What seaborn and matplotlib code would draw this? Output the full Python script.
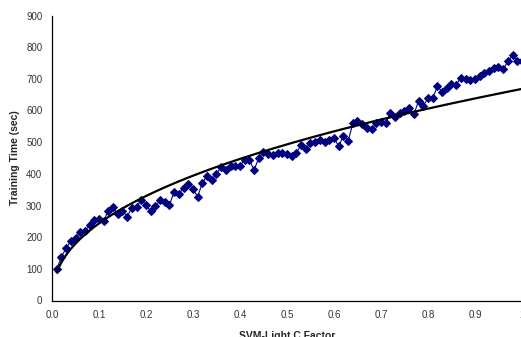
import numpy as np
import pandas as pd
import matplotlib
matplotlib.use("Agg")
import matplotlib.pyplot as plt
import seaborn as sns

c_factor = [round(0.01 * i, 2) for i in range(1, 101)]
training_time = [
    100, 137, 166, 187, 196, 216, 221, 237, 255, 258,
    252, 284, 295, 272, 283, 265, 293, 296, 318, 301,
    282, 298, 316, 311, 303, 343, 337, 356, 369, 351,
    328, 372, 393, 380, 401, 421, 412, 426, 426, 426,
    443, 443, 412, 451, 469, 462, 460, 466, 466, 464,
    455, 467, 491, 478, 497, 500, 507, 499, 507, 514,
    487, 521, 503, 559, 568, 558, 546, 541, 559, 564,
    560, 592, 580, 593, 598, 609, 588, 630, 615, 639,
    639, 676, 659, 670, 683, 682, 704, 699, 696, 701,
    710, 718, 725, 733, 738, 731, 755, 775, 757, 755,
]
x_ticks = [0.0, 0.1, 0.2, 0.3, 0.4, 0.5, 0.6, 0.7, 0.8, 0.9, 1.0]
x_tick_labels = ["0.0", "0.1", "0.2", "0.3", "0.4", "0.5", "0.6", "0.7", "0.8", "0.9", "1"]
y_ticks = [0, 100, 200, 300, 400, 500, 600, 700, 800, 900]

df = pd.DataFrame({"C": c_factor, "Time": training_time})

# power trendline fitted to the data (as a spreadsheet power trendline)
b, loga = np.polyfit(np.log(df["C"]), np.log(df["Time"]), 1)
fit_x = np.linspace(df["C"].min(), df["C"].max(), 200)
fit_df = pd.DataFrame({"C": fit_x, "Fit": np.exp(loga) * fit_x ** b})

sns.set_style("white")
plt.rcParams["font.family"] = ["Liberation Sans", "DejaVu Sans"]

fig = plt.figure(figsize=(5.21, 3.37), dpi=100)
ax = fig.add_axes([52 / 521, 36.5 / 337, 470 / 521, 285 / 337])

sns.lineplot(data=df, x="C", y="Time", ax=ax, color="#000080", linewidth=0.8,
             marker="D", markersize=3.6, markeredgecolor="#000080", clip_on=True)
sns.lineplot(data=fit_df, x="C", y="Fit", ax=ax, color="black", linewidth=1.6)

ax.set_xlim(0, 1)
ax.set_ylim(0, 900)
ax.set_xticks(x_ticks)
ax.set_xticklabels(x_tick_labels)
ax.set_yticks(y_ticks)
ax.tick_params(axis="both", direction="out", length=4, width=0.8, labelsize=7,
               colors="black", pad=3)
ax.tick_params(axis="both", labelcolor="#333333")
for s in ["top", "right"]:
    ax.spines[s].set_visible(False)
for s in ["left", "bottom"]:
    ax.spines[s].set_color("black")
    ax.spines[s].set_linewidth(0.9)

ax.set_xlabel("SVM-Light C Factor", fontsize=7.5, fontweight="bold", labelpad=8)
ax.set_ylabel("Training Time (sec)", fontsize=7.5, fontweight="bold", labelpad=4)
ax.grid(False)

fig.savefig("out.png", dpi=100)
